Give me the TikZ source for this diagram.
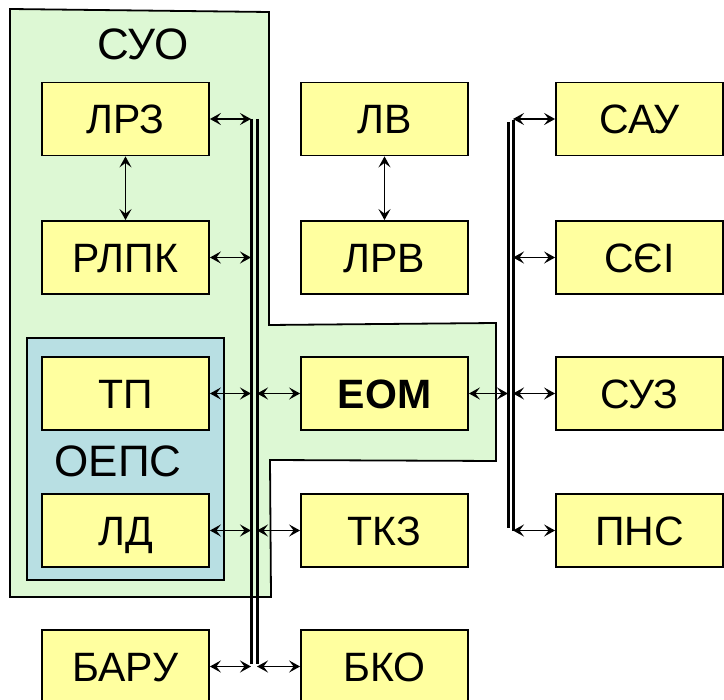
\documentclass[tikz,border=0pt]{standalone}
\usepackage{fontspec}
\setmainfont{Liberation Sans}
\usetikzlibrary{arrows.meta}
\definecolor{unityellow}{HTML}{FFFF9F}
\definecolor{suogreen}{HTML}{DDF8D4}
\definecolor{oepsblue}{HTML}{B8DFE3}

\tikzset{
  unit/.style={draw=black,line width=1.8pt,fill=unityellow,minimum width=167pt,minimum height=73pt,inner sep=0pt,
    font=\fontsize{41}{45}\selectfont,text height=30pt,text depth=0pt},
  title/.style={inner sep=0pt,font=\fontsize{44}{48}\selectfont,text height=32pt,text depth=0pt},
  link/.style={line width=1.8pt,{Stealth[length=11pt,width=12pt,inset=4.5pt]}-{Stealth[length=11pt,width=12pt,inset=4.5pt]}},
  bus/.style={line width=3pt}
}

\begin{document}
\begin{tikzpicture}[x=1pt,y=-1pt]
  \clip (0,0) rectangle (724,700);
  \draw[line width=1.8pt,fill=suogreen] (10,9) -- (269,12) -- (269,325) -- (496,323) -- (496,461)
    -- (270,460) -- (271,597) -- (10,597) -- cycle;
  \draw[line width=1.8pt,fill=oepsblue] (27,338) rectangle (224,580);
  \node[title] (suo) at (143,44) {СУО};
  \node[title] (oeps) at (118,461) {ОЕПС};

  \node[unit] (lrz) at (125.5,119) {ЛРЗ};
  \node[unit] (rlpk) at (125.5,257.5) {РЛПК};
  \node[unit] (tp) at (125.5,393.5) {ТП};
  \node[unit] (ld) at (125.5,530.5) {ЛД};
  \node[unit] (baru) at (125.5,666.5) {БАРУ};

  \node[unit] (lv) at (384.5,119) {ЛВ};
  \node[unit] (lrv) at (384.5,257.5) {ЛРВ};
  \node[unit,font=\fontsize{41}{45}\selectfont\bfseries] (eom) at (384.5,393.5) {ЕОМ};
  \node[unit] (tkz) at (384.5,530.5) {ТКЗ};
  \node[unit] (bko) at (384.5,666.5) {БКО};

  \node[unit] (sau) at (639.5,119) {САУ};
  \node[unit] (sei) at (639.5,257.5) {СЄІ};
  \node[unit] (suz) at (639.5,393.5) {СУЗ};
  \node[unit] (pns) at (639.5,530.5) {ПНС};

  \coordinate (busa1) at (251,119);
  \coordinate (busa2) at (251,664);
  \coordinate (busb1) at (257,119);
  \coordinate (busb2) at (257,664);
  \coordinate (busc1) at (508,122);
  \coordinate (busc2) at (508,528);
  \coordinate (busd1) at (513,120);
  \coordinate (busd2) at (513,531);
  \draw[bus] (busa1) -- (busa2);
  \draw[bus] (busb1) -- (busb2);
  \draw[bus] (busc1) -- (busc2);
  \draw[bus] (busd1) -- (busd2);

  \draw[link] (lrz) -- (rlpk);
  \draw[link] (lv) -- (lrv);

  \draw[link] (lrz.east) -- (lrz.east -| busa1);
  \draw[link] (rlpk.east) -- (rlpk.east -| busa1);
  \draw[link] (tp.east) -- (tp.east -| busa1);
  \draw[link] (ld.east) -- (ld.east -| busa1);
  \draw[link] (baru.east) -- (baru.east -| busa1);
  \draw[link] (eom.west) -- (eom.west -| busb1);
  \draw[link] (tkz.west) -- (tkz.west -| busb1);
  \draw[link] (bko.west) -- (bko.west -| busb1);

  \draw[link] (eom.east) -- (eom.east -| busc1);
  \draw[link] (sau.west) -- (sau.west -| busd1);
  \draw[link] (sei.west) -- (sei.west -| busd1);
  \draw[link] (suz.west) -- (suz.west -| busd1);
  \draw[link] (pns.west) -- (pns.west -| busd1);
\end{tikzpicture}
\end{document}
